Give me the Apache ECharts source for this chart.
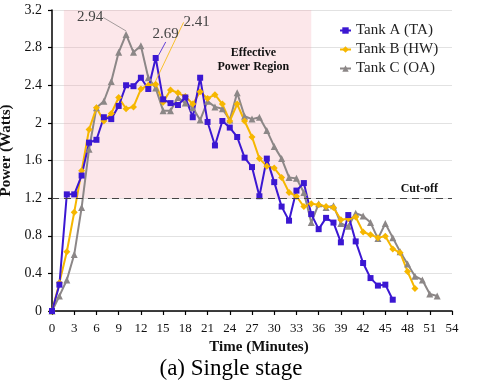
<!DOCTYPE html>
<html>
<head>
<meta charset="utf-8">
<script src="https://cdn.jsdelivr.net/npm/echarts@6/dist/echarts.min.js"></script>
<style>
  html, body { margin: 0; padding: 0; background: #fff; }
  #chart { width: 480px; height: 388px; }
</style>
</head>
<body>
<div id="chart"></div>
<script>
// power (W) read once per minute, starting at t = 0
const tankA = [0, 0.28, 1.24, 1.24, 1.44, 1.79, 1.82, 2.06, 2.04, 2.18, 2.40, 2.39, 2.48, 2.36, 2.69,
  2.25, 2.21, 2.19, 2.27, 2.06, 2.48, 2.01, 1.76, 2.02, 1.95, 1.85, 1.63, 1.53, 1.22, 1.62,
  1.37, 1.11, 0.96, 1.28, 1.36, 1.03, 0.87, 0.99, 0.94, 0.73, 1.02, 0.74, 0.51, 0.35, 0.27,
  0.28, 0.12];
const tankB = [0, 0.30, 0.63, 1.05, 1.49, 1.93, 2.16, 2.02, 2.10, 2.27, 2.15, 2.17, 2.36, 2.40, 2.41,
  2.22, 2.35, 2.32, 2.28, 2.20, 2.33, 2.26, 2.30, 2.20, 2.02, 2.20, 2.02, 1.85, 1.62, 1.54,
  1.52, 1.42, 1.26, 1.22, 1.11, 1.14, 1.13, 1.11, 1.10, 0.97, 0.98, 1.00, 0.84, 0.81, 0.78,
  0.795, 0.66, 0.62, 0.42, 0.24];
const tankC = [0, 0.16, 0.33, 0.60, 1.10, 1.72, 2.16, 2.23, 2.44, 2.75, 2.94, 2.75, 2.82, 2.48, 2.37,
  2.13, 2.13, 2.27, 2.21, 2.16, 2.03, 2.23, 2.17, 2.15, 2.03, 2.32, 2.07, 2.04, 2.06, 1.92,
  1.75, 1.62, 1.42, 1.41, 1.26, 0.94, 1.14, 1.10, 1.12, 0.93, 0.90, 1.04, 1.01, 0.94, 0.77,
  0.93, 0.78, 0.63, 0.50, 0.37, 0.33, 0.18, 0.16];

const names = ['Tank A (TA)', 'Tank B (HW)', 'Tank C (OA)'];
const colors = ['#3b17d2', '#f6b700', '#8c8787'];

const cutoff = 1.2;
const regionX = [1.6, 35];   // effective power region, minutes
const regionY = [1.2, 3.2];

// index of the peak that gets a callout
const peakIdx = { A: 14, B: 14, C: 10 };

const serif = 'Liberation Serif';

function toPoints(vals, peak, color) {
  return vals.map((v, i) => {
    if (i !== peak) return [i, v];
    return {
      value: [i, v],
      label: { show: true, formatter: String(v) },
      labelLine: { show: true, lineStyle: { color: color, width: 0.8 } }
    };
  });
}

function lineSeries(idx, vals, peak, symbol, size, shift) {
  return {
    name: names[idx],
    type: 'line',
    data: toPoints(vals, peak, colors[idx]),
    symbol: symbol,
    symbolSize: size,
    showAllSymbol: true,
    itemStyle: { color: colors[idx] },
    lineStyle: { color: colors[idx], width: 2 },
    label: { show: false, position: 'top', fontFamily: serif, fontSize: 15, color: '#444' },
    labelLayout: p => (p.dataIndex === peak ? { dx: shift[0], dy: shift[1] } : {}),
    animation: false
  };
}

const chart = echarts.init(document.getElementById('chart'));

const seriesC = lineSeries(2, tankC, peakIdx.C, 'triangle', 7, [-36, -1]);
const seriesB = lineSeries(1, tankB, peakIdx.B, 'diamond', 7, [41, -46]);
const seriesA = lineSeries(0, tankA, peakIdx.A, 'rect', 6, [10, -8]);

seriesA.markArea = {
  silent: true,
  itemStyle: { color: 'rgba(245, 160, 170, 0.25)' },
  label: {
    show: true,
    position: ['76.6%', '19%'],
    align: 'center',
    verticalAlign: 'top',
    fontFamily: serif,
    fontWeight: 'bold',
    fontSize: 12,
    lineHeight: 14,
    color: '#111'
  },
  data: [[
    { name: 'Effective\nPower Region', coord: [regionX[0], regionY[0]] },
    { coord: [regionX[1], regionY[1]] }
  ]]
};
seriesA.markLine = {
  silent: true,
  symbol: 'none',
  lineStyle: { color: '#444', type: [7, 5], width: 1.2 },
  label: {
    position: 'insideEndTop',
    formatter: 'Cut-off',
    fontFamily: serif,
    fontWeight: 'bold',
    fontSize: 12,
    color: '#111',
    distance: [14, 3]
  },
  data: [{ yAxis: cutoff }]
};

chart.setOption({
  textStyle: { fontFamily: serif },
  grid: { left: 52, right: 28, top: 10, bottom: 77, outerBoundsMode: 'none' },
  legend: {
    data: names,
    orient: 'vertical',
    left: 339,
    top: 22,
    padding: 0,
    itemWidth: 11,
    itemHeight: 8,
    itemGap: 2,
    textStyle: { fontFamily: serif, fontSize: 15, color: '#222', lineHeight: 17 }
  },
  xAxis: {
    type: 'value',
    min: 0,
    max: 54,
    interval: 3,
    name: 'Time (Minutes)',
    nameLocation: 'middle',
    nameGap: 27,
    nameTextStyle: { fontFamily: serif, fontWeight: 'bold', fontSize: 15, color: '#111', padding: [0, 0, 0, 14] },
    axisLine: { lineStyle: { color: '#000', width: 1.5 } },
    axisTick: { show: true, length: 4, lineStyle: { color: '#000', width: 1.2 } },
    axisLabel: { fontFamily: serif, fontSize: 13, color: '#111', margin: 11 },
    splitLine: { show: false }
  },
  yAxis: {
    type: 'value',
    min: 0,
    max: 3.2,
    interval: 0.4,
    name: 'Power (Watts)',
    nameLocation: 'middle',
    nameGap: 33,
    nameTextStyle: { fontFamily: serif, fontWeight: 'bold', fontSize: 15, color: '#111', padding: [0, 0, 0, 20] },
    axisLine: { show: true, lineStyle: { color: '#000', width: 1.5 } },
    axisTick: { show: true, length: 4, lineStyle: { color: '#000', width: 1.2 } },
    axisLabel: { fontFamily: serif, fontSize: 14, color: '#111', margin: 10 },
    splitLine: { show: true, lineStyle: { color: '#e2e2e2', width: 1 } }
  },
  graphic: [{
    type: 'text',
    x: 231,
    y: 357,
    style: { text: '(a) Single stage', font: '23px "Liberation Serif"', fill: '#000', textAlign: 'center' }
  }],
  series: [seriesC, seriesB, seriesA]
});
</script>
</body>
</html>
